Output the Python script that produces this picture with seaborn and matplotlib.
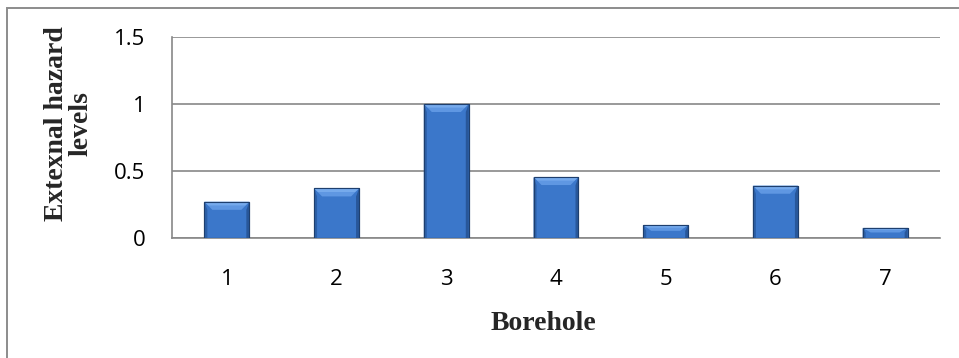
import matplotlib
matplotlib.use("Agg")
import matplotlib.pyplot as plt
from matplotlib.patches import Rectangle, Polygon
import seaborn as sns
import pandas as pd

boreholes = ["1", "2", "3", "4", "5", "6", "7"]
hazard = [0.27, 0.37, 1.00, 0.455, 0.097, 0.39, 0.075]
y_ticks = [0, 0.5, 1, 1.5]
y_tick_labels = ["0", "0.5", "1", "1.5"]

df = pd.DataFrame({"Borehole": boreholes, "Hazard": hazard})

sns.set_theme(style="white")
plt.rcParams["font.family"] = ["Open Sans", "DejaVu Sans"]

W, H = 959, 358
fig = plt.figure(figsize=(W / 100, H / 100), dpi=100)
ax = fig.add_axes([172 / W, 1 - 238 / H, (940 - 172) / W, (238 - 37) / H])

grid_col = "#888888"
sns.barplot(data=df, x="Borehole", y="Hazard", color="#3B77CA", width=0.41,
            edgecolor="#1E3F6E", linewidth=0.8, saturation=1, ax=ax, zorder=3)

ax.set_xlim(-0.5, len(boreholes) - 0.5)
ax.set_ylim(0, 1.5)
ax.set_yticks(y_ticks)
ax.set_yticklabels(y_tick_labels)
ax.yaxis.grid(True, color=grid_col, linewidth=1.2, zorder=0)
ax.set_axisbelow(True)

# category separators on the x axis
ax.set_xticks([i - 0.5 for i in range(len(boreholes) + 1)], minor=True)
ax.tick_params(axis="x", which="major", length=0, pad=22, labelsize=16, colors="black")
ax.tick_params(axis="x", which="minor", length=7, width=1.2, color=grid_col, direction="out")
ax.tick_params(axis="y", which="major", length=7, width=1.2, color=grid_col,
               direction="out", pad=12, labelsize=16, labelcolor="black")

for side in ("top", "right"):
    ax.spines[side].set_visible(False)
for side in ("left", "bottom"):
    ax.spines[side].set_color(grid_col)
    ax.spines[side].set_linewidth(1.2)

ax.set_xlabel("")
ax.set_ylabel("")

# bevelled tops for the columns
fig.canvas.draw()
px_x = (940 - 172) / len(boreholes)
px_y = (238 - 37) / 1.5
bx = 8 / px_x
by = 8 / px_y
sx = 3 / px_x
for p in ax.patches:
    x0, y0 = p.get_x(), p.get_y()
    w, h = p.get_width(), p.get_height()
    top = y0 + h
    d = min(by, h * 0.45)
    ax.add_patch(Polygon([(x0, top), (x0 + w, top), (x0 + w - bx, top - d), (x0 + bx, top - d)],
                         closed=True, facecolor="#5F97E2", edgecolor="none", zorder=4))
    ax.add_patch(Polygon([(x0, top), (x0 + w, top), (x0 + w - bx * 0.5, top - d * 0.45),
                          (x0 + bx * 0.5, top - d * 0.45)],
                         closed=True, facecolor="#76AAEC", edgecolor="none", zorder=4))
    ax.add_patch(Polygon([(x0, y0), (x0 + sx, y0), (x0 + sx, top - d), (x0, top)],
                         closed=True, facecolor="#2C5FA6", edgecolor="none", zorder=4))
    ax.add_patch(Polygon([(x0 + w, y0), (x0 + w - sx, y0), (x0 + w - sx, top - d), (x0 + w, top)],
                         closed=True, facecolor="#28579A", edgecolor="none", zorder=4))
    ax.add_patch(Rectangle((x0, y0), w, h, facecolor="none", edgecolor="#1E3F6E",
                           linewidth=0.8, zorder=5))

fig.text(69 / W, 1 - 124 / H, "Extexnal hazard\nlevels", rotation=90, ha="center",
         va="center", fontsize=20, fontweight="bold", family="Liberation Serif",
         linespacing=0.95)
fig.text(543 / W, 1 - 323 / H, "Borehole", ha="center", va="center", fontsize=20,
         fontweight="bold", family="Liberation Serif")

# chart frame
fig.add_artist(Rectangle((7 / W, -0.05), (W + 10) / W, 1 - 8 / H + 0.05,
                         transform=fig.transFigure, facecolor="none",
                         edgecolor="#8C8C8C", linewidth=1.4))

fig.savefig("out.png", dpi=100)
